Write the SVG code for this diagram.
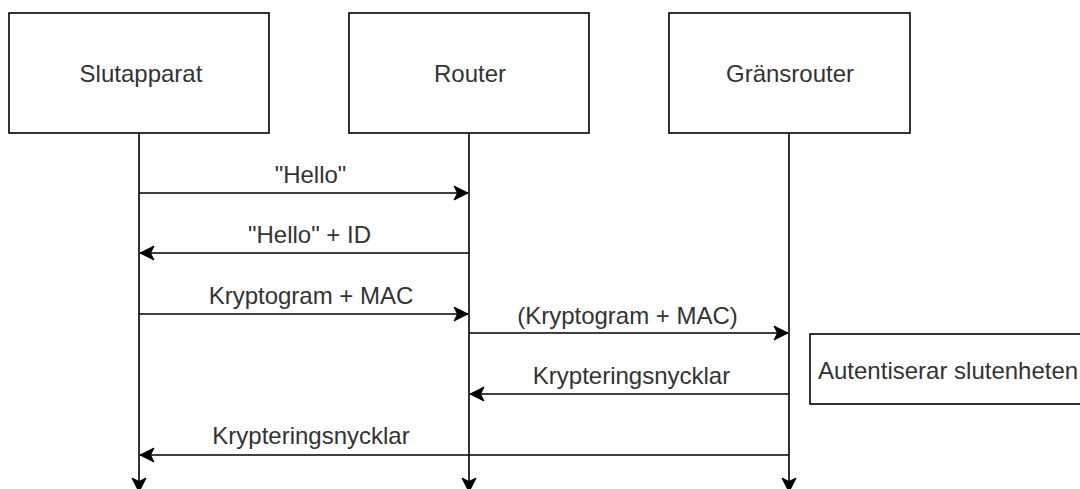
<svg xmlns="http://www.w3.org/2000/svg" width="1080" height="489" viewBox="0 0 1080 489">
  <style>
    .box { fill: #ffffff; stroke: #000000; stroke-width: 1.6; }
    .line { fill: none; stroke: #000000; stroke-width: 1.6; marker-end: url(#arrow); }
    .label { font-family: "Liberation Sans", Arial, Helvetica, sans-serif; font-size: 24px; fill: #333333; text-anchor: middle; }
    .note { font-family: "Liberation Sans", Arial, Helvetica, sans-serif; font-size: 24px; fill: #333333; }
  </style>
  <defs>
    <!-- classic notched arrowhead, tip at the line end -->
    <marker id="arrow" viewBox="-16 -9 17 18" refX="0" refY="0" markerWidth="17" markerHeight="18" markerUnits="userSpaceOnUse" orient="auto">
      <path d="M0,0 L-14,-7 L-10.5,0 L-14,7 Z" fill="#000000" stroke="#000000" stroke-width="1" stroke-linejoin="miter"/>
    </marker>
  </defs>
  <rect width="1080" height="489" fill="#ffffff"/>

  <!-- participants -->
  <g id="slutapparat">
    <rect class="box" x="9" y="13" width="260" height="120"/>
    <text class="label" x="141" y="81.5">Slutapparat</text>
  </g>
  <g id="router">
    <rect class="box" x="349" y="13" width="240" height="120"/>
    <text class="label" x="470" y="81.5">Router</text>
  </g>
  <g id="gransrouter">
    <rect class="box" x="669" y="13" width="241" height="120"/>
    <text class="label" x="790" y="81.5">Gränsrouter</text>
  </g>

  <!-- note beside the border router -->
  <g id="note-autentiserar">
    <rect class="box" x="810" y="334" width="300" height="70"/>
    <text class="note" x="818" y="379">Autentiserar slutenheten</text>
  </g>

  <!-- lifelines and messages -->
  <g id="connectors">
    <line class="line" x1="139" y1="133" x2="139" y2="492"/>
    <line class="line" x1="469" y1="133" x2="469" y2="492"/>
    <line class="line" x1="789" y1="133" x2="789" y2="492"/>

    <line class="line" x1="139" y1="193" x2="468" y2="193"/>
    <line class="line" x1="469" y1="253" x2="140" y2="253"/>
    <line class="line" x1="139" y1="314" x2="468" y2="314"/>
    <line class="line" x1="469" y1="333" x2="788" y2="333"/>
    <line class="line" x1="789" y1="394" x2="470" y2="394"/>
    <line class="line" x1="789" y1="455" x2="140" y2="455"/>

    <text class="label" x="310.5" y="182.5">"Hello"</text>
    <text class="label" x="309.5" y="242.5">"Hello" + ID</text>
    <text class="label" x="311" y="303.5">Kryptogram + MAC</text>
    <text class="label" x="627.5" y="323.5">(Kryptogram + MAC)</text>
    <text class="label" x="631.5" y="383.5">Krypteringsnycklar</text>
    <text class="label" x="311" y="443.5">Krypteringsnycklar</text>
  </g>
</svg>
